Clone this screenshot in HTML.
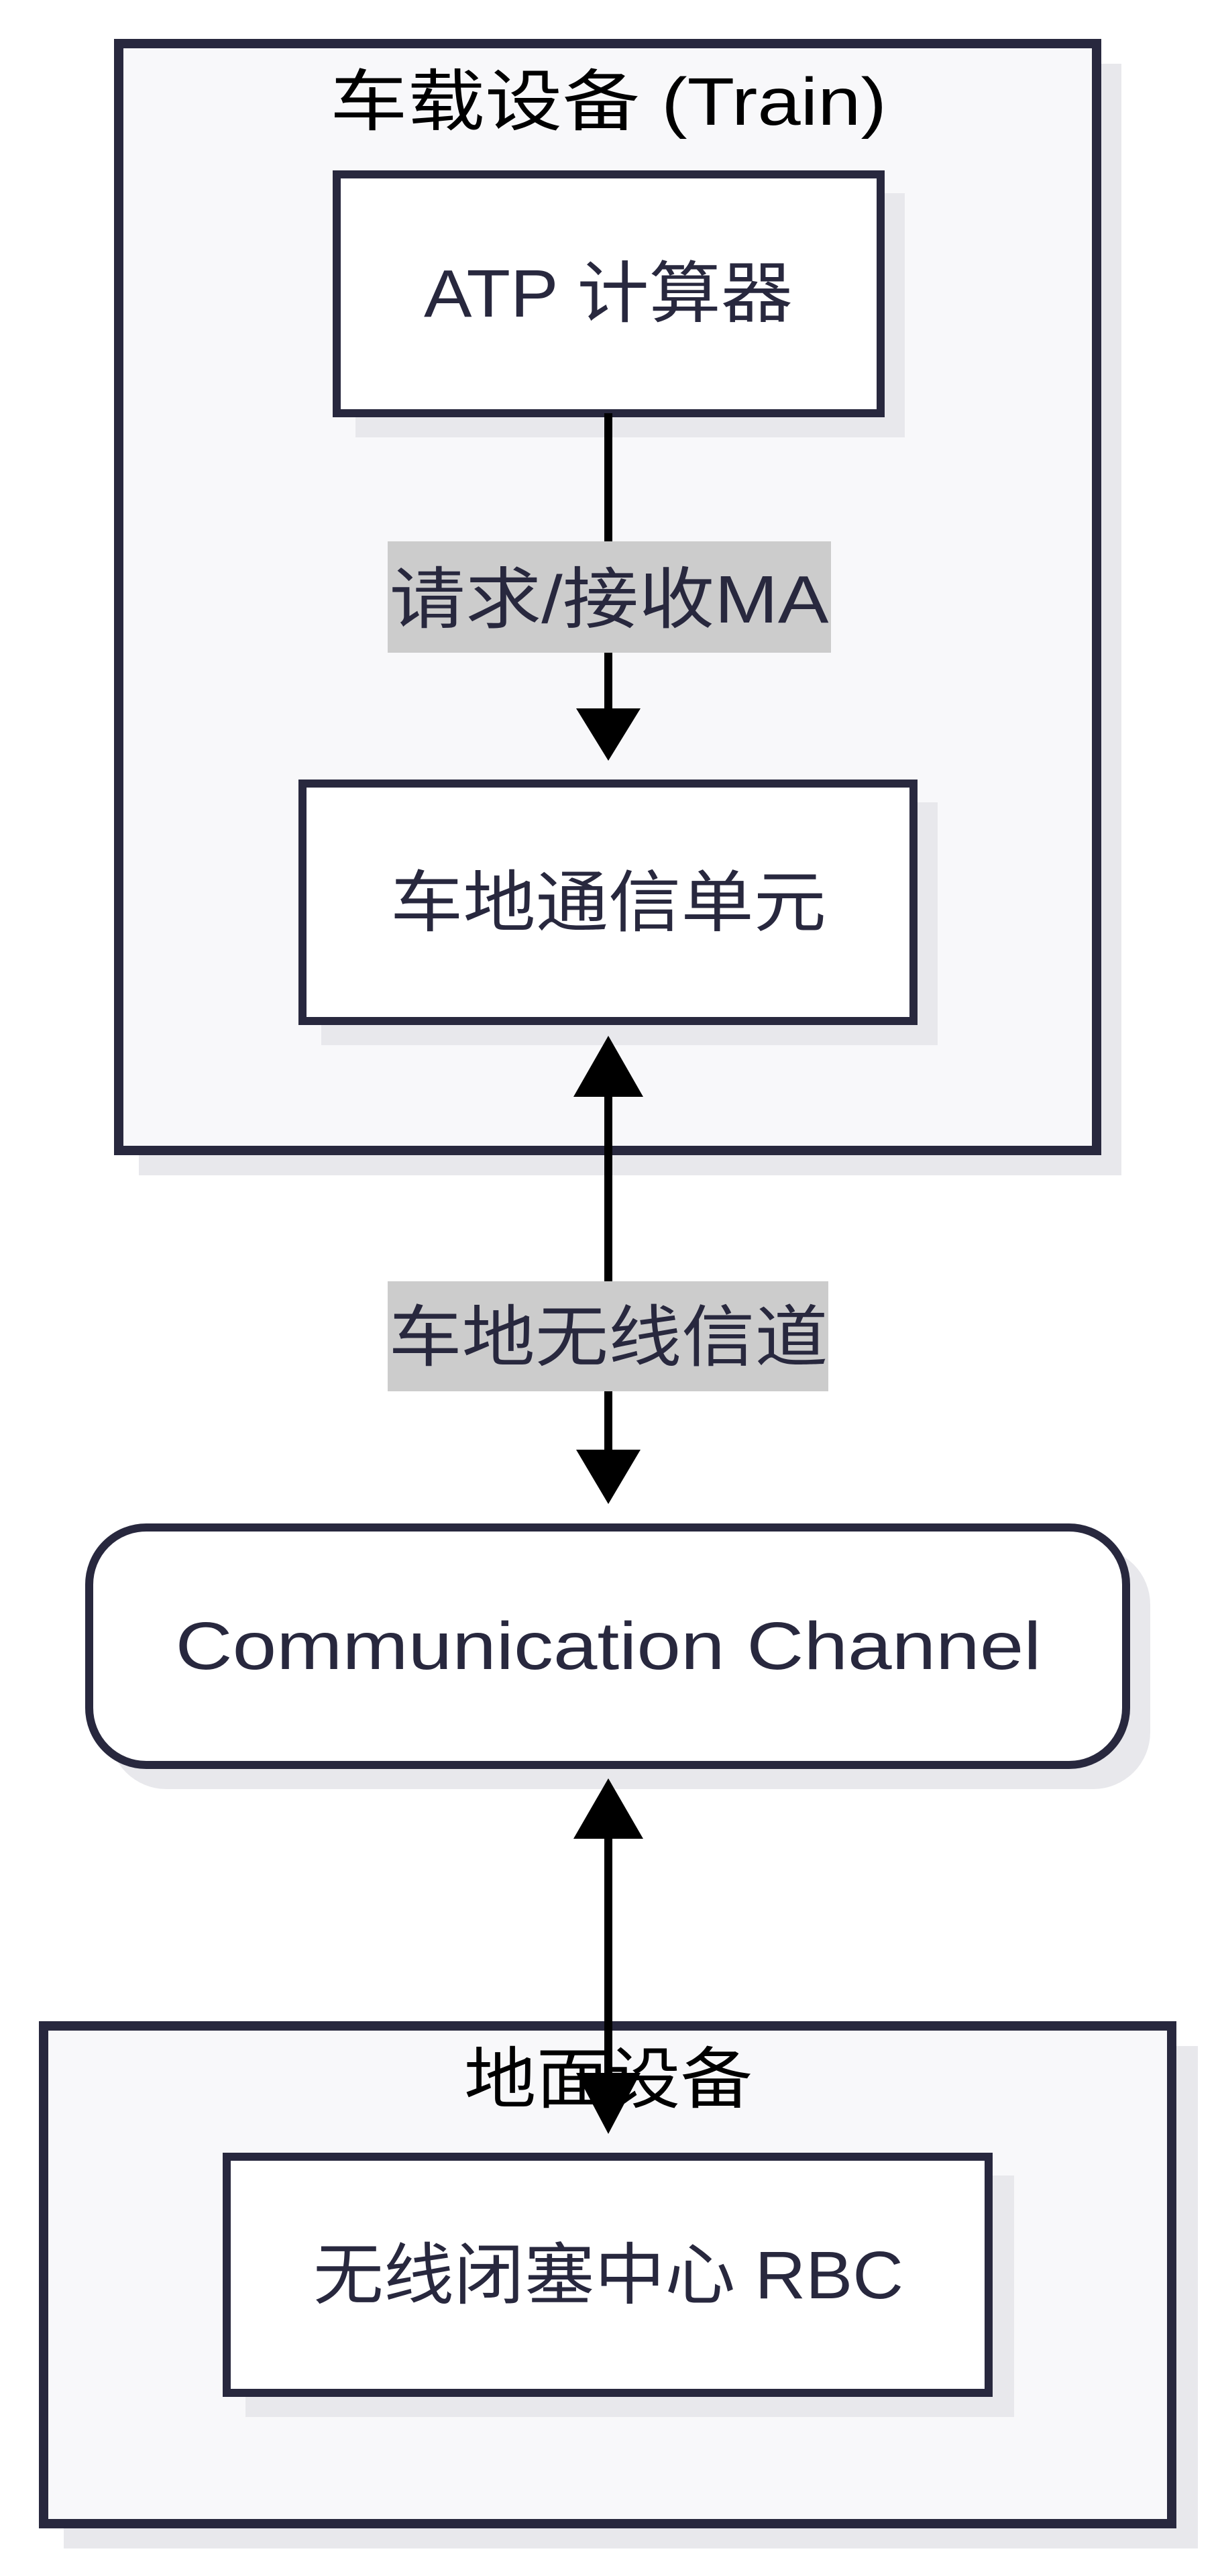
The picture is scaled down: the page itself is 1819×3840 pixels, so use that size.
<!DOCTYPE html>
<html><head><meta charset="utf-8"><style>html,body{margin:0;padding:0;background:#fff}svg{display:block}</style></head>
<body>
<svg width="1819" height="3840" viewBox="0 0 1819 3840" xmlns="http://www.w3.org/2000/svg" font-family="'Liberation Sans','Noto Sans CJK SC',sans-serif">
<rect width="1819" height="3840" fill="#fff"/>
<g transform="translate(4,6)">
<!-- top cluster -->
<rect x="203" y="89" width="1465" height="1657" fill="#e8e8ec"/>
<rect x="173" y="59" width="1458" height="1650" fill="#f8f8fa" stroke="#28283e" stroke-width="14"/>
<text x="903" y="180" font-size="100" text-anchor="middle" fill="#000" textLength="830" lengthAdjust="spacingAndGlyphs">车载设备 (Train)</text>
<!-- ATP -->
<rect x="526" y="282" width="819" height="364" fill="#e8e8ec"/>
<rect x="498" y="254" width="811" height="356" fill="#fff" stroke="#28283e" stroke-width="12"/>
<text x="903" y="466" font-size="100" text-anchor="middle" fill="#28283e" textLength="550" lengthAdjust="spacingAndGlyphs">ATP 计算器</text>
<!-- arrow 1 -->
<line x1="903" y1="610" x2="903" y2="1055" stroke="#000" stroke-width="12"/>
<rect x="574" y="801" width="661" height="166" fill="#cccccc"/>
<text x="904" y="922" font-size="100" text-anchor="middle" fill="#28283e" textLength="655" lengthAdjust="spacingAndGlyphs">请求/接收MA</text>
<polygon points="855,1050 951,1050 903,1128" fill="#000"/>
<!-- comm unit -->
<rect x="475" y="1190" width="919" height="362" fill="#e8e8ec"/>
<rect x="447" y="1162" width="911" height="354" fill="#fff" stroke="#28283e" stroke-width="12"/>
<text x="903" y="1374" font-size="100" text-anchor="middle" fill="#28283e" textLength="650" lengthAdjust="spacingAndGlyphs">车地通信单元</text>
<!-- arrow 2 -->
<line x1="903" y1="1620" x2="903" y2="2160" stroke="#000" stroke-width="12"/>
<polygon points="851,1629 955,1629 903,1538" fill="#000"/>
<rect x="574" y="1904" width="657" height="164" fill="#cccccc"/>
<text x="903" y="2022" font-size="100" text-anchor="middle" fill="#28283e" textLength="655" lengthAdjust="spacingAndGlyphs">车地无线信道</text>
<polygon points="855,2155 951,2155 903,2236" fill="#000"/>
</g>
<g transform="translate(4,14)">
<!-- comm channel -->
<rect x="159" y="2293" width="1552" height="360" rx="85" fill="#e8e8ec"/>
<rect x="129" y="2263" width="1546" height="354" rx="85" fill="#fff" stroke="#28283e" stroke-width="12"/>
<text x="903" y="2474" font-size="100" text-anchor="middle" fill="#28283e" textLength="1291" lengthAdjust="spacingAndGlyphs">Communication Channel</text>
<!-- bottom cluster -->
<rect x="91" y="3036" width="1691" height="749" fill="#e8e8ec"/>
<rect x="61" y="3006" width="1682" height="742" fill="#f8f8fa" stroke="#28283e" stroke-width="14"/>
<text x="903" y="3120" font-size="100" text-anchor="middle" fill="#000" textLength="430" lengthAdjust="spacingAndGlyphs">地面设备</text>
<!-- arrow 3 -->
<line x1="903" y1="2720" x2="903" y2="3085" stroke="#000" stroke-width="12"/>
<polygon points="851,2727 955,2727 903,2637" fill="#000"/>
<polygon points="855,3076 951,3076 903,3167" fill="#000"/>
<!-- RBC -->
<rect x="362" y="3229" width="1146" height="360" fill="#e8e8ec"/>
<rect x="334" y="3201" width="1136" height="352" fill="#fff" stroke="#28283e" stroke-width="12"/>
<text x="903" y="3412" font-size="100" text-anchor="middle" fill="#28283e" textLength="880" lengthAdjust="spacingAndGlyphs">无线闭塞中心 RBC</text>
</g>
</svg>
</body></html>
